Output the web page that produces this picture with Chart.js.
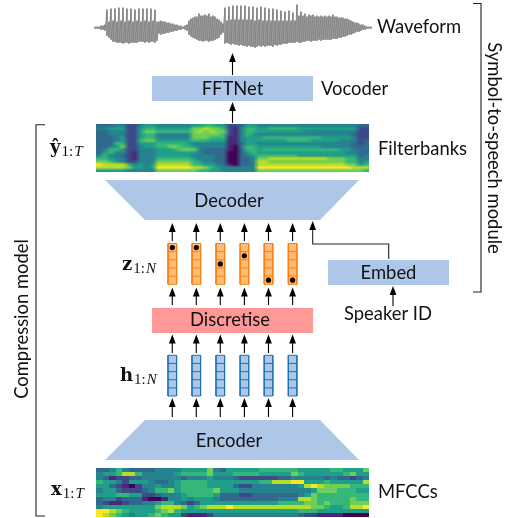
<!DOCTYPE html>
<html>
<head>
<meta charset="utf-8">
<style>body{margin:0;background:#fff}canvas{display:block}</style>
<script src="https://cdn.jsdelivr.net/npm/chart.js@4"></script>
</head>
<body>
<canvas id="chart" width="510" height="518"></canvas>
<script>
// waveform amplitude above / below the centre line, one value per 2 px
const waveTop = [1,1,1,2,2,3, 18,6,19,7,19,6,20,7,20,6,19,7,19,6,18,7,19,6,19,7,19,6,19,7,18,6,
  6,7,6,6,5,5,4,4,3,3,2,2,1,2,
  3,7,9,10,11,11,14,12,12,13,12,14,11,12,11,9,8,6,4,
  20,7,21,8,22,8,22,8,22,8,22,8,21,8,21,7,20,8,21,7,20,7,19,7,19,7,18,7,17,7,16,7,17,7,15,7,
  23,12,16,12,14,11,13,12,13,11,12,11,12,11,12,11,12,11,13,11,11,10,10,10,9,9,8,7,6,5,5,4,3,3,2,1,1,1];
const waveBottom = [1,1,1,2,2,3, 8,10,12,14,14,15,15,15,16,15,15,16,15,15,15,15,14,14,14,15,14,15,14,14,15,13,
  6,7,6,6,5,5,4,4,3,3,2,2,1,2,
  3,7,9,10,11,12,13,13,14,13,13,14,13,13,12,11,10,7,5,
  16,15,16,17,16,17,17,18,17,18,18,19,18,19,19,20,19,18,19,18,19,18,18,18,19,17,18,17,17,16,16,16,15,15,15,15,
  14,15,15,14,14,13,13,14,13,13,13,12,13,12,12,12,12,12,11,11,11,10,10,9,9,8,7,7,6,5,4,4,3,2,2,1,1,1];

// colour level 0-9 per cell, one string per row
const filterbanks = [
  '3334422455444444556655223554444444444444444433',
  '4455522566555555778776214665566666555555555522',
  '3344422577666666787877214665555555544444444422',
  '3344422566444444777776214654444444444444444322',
  '3334522566444444777666114555666666666655555422',
  '3334522677555555666555114555555566665555544423',
  '3336622555666665444444113554444444444444444323',
  '3345722455667766544444104665555555555544444333',
  '3466522444555677743333103665666666666666655433',
  '3564421444555555543333003565555555555555554433',
  '4644321444555555444433003456666666555555555534',
  '6654421444666666544433003347788888888887776644',
  '7765422444777777654433003348877777777777776645',
  '9888864545888888665543103348888888888888887756',
  '8888875545999999887654444449999999999999999888',
  '5555544444777777766554444447777777777777777776'
];
const mfccs = [
  '334643333444455557435555566666655555665557',
  '455688644444566667555666655555765555556755',
  '431223344444434445444322222233444443433234',
  '655425554334566665555555566888995556555558',
  '553210244544566665555322444444458987777666',
  '455322234667566666755544444444444577766655',
  '555665522344456666533322333333345766666666',
  '344233310014454555433333333344488766666766',
  '321123344566432355555555555566667767666777',
  '455555555788875678889888888888888776556889',
  '998765555678655555555555555555566655555555',
  '987654556765521112444444444444432211110000'
];
const levels = ['#440154','#482878','#3e4989','#31688e','#26828e','#1f9e89','#35b779','#6ece58','#b5de2b','#fde725'];

// positions of the latent columns and which cell is picked in each
const columnX = [172.3, 196.3, 220.3, 244.4, 268.5, 292.6];
const pickedCell = [0, 0, 2, 1, 4, 4];

const lightBlue = '#aec7e8';
const datasets = [];

function path(pts, color, width) {
  datasets.push({ data: pts.map(p => ({ x: p[0], y: p[1] })), showLine: true, fill: false,
    borderColor: color, borderWidth: width, pointRadius: 0, tension: 0, clip: false });
}
function shape(pts, color) {
  datasets.push({ data: pts.map(p => ({ x: p[0], y: p[1] })), showLine: true, fill: 'shape',
    backgroundColor: color, borderColor: color, borderWidth: 0, pointRadius: 0, tension: 0, clip: false });
}
function rect(x0, y0, x1, y1, color) {
  shape([[x0, y0], [x1, y0], [x1, y1], [x0, y1], [x0, y0]], color);
}
function arrow(x, tail, tip) {
  path([[x, tail], [x, tip + 4]], '#000', 1.1);
  shape([[x, tip], [x + 3.4, tip + 9], [x - 3.4, tip + 9], [x, tip]], '#000');
}
function stack(x, top, bottom, fillColor, edge) {
  rect(x - 4.3, top, x + 4.3, bottom, fillColor);
  const h = (bottom - top) / 5;
  for (let i = 0; i <= 5; i++) path([[x - 4.3, top + i * h], [x + 4.3, top + i * h]], edge, 1);
  path([[x - 4.3, top], [x - 4.3, bottom]], edge, 1);
  path([[x + 4.3, top], [x + 4.3, bottom]], edge, 1);
}

// waveform
const wavePts = [];
waveTop.forEach((t, i) => {
  const x = 95 + i * 2;
  wavePts.push([x, 27.7 - t], [x, 27.7 + (waveBottom[i] || 0)]);
});
path(wavePts, '#808080', 0.8);

// blocks
rect(152, 76, 313, 101, lightBlue);
shape([[105, 180], [359, 180], [320, 220], [145, 220], [105, 180]], lightBlue);
rect(152, 308, 313, 333, '#ff9896');
shape([[145, 420], [320, 420], [359, 460], [105, 460], [145, 420]], lightBlue);
rect(328, 260, 449, 285, lightBlue);

// arrows
arrow(232.5, 75, 53);
arrow(232.5, 123, 102);
columnX.forEach(x => {
  arrow(x, 241, 223);
  arrow(x, 305, 287.5);
  arrow(x, 353, 334.5);
  arrow(x, 417, 398);
  stack(x, 243.5, 284.3, '#ffbb78', '#ff7f0e');
  stack(x, 355.3, 396, lightBlue, '#1f77b4');
});
arrow(393, 306, 286);
path([[388.7, 259], [388.7, 244], [312.7, 244], [312.7, 226]], '#222', 1.1);
arrow(312.7, 228, 221);

// brackets
path([[473, 3.5], [481, 3.5], [481, 292], [473, 292]], '#222', 1.1);
path([[45, 124.7], [36, 124.7], [36, 516], [45, 516]], '#222', 1.1);

// picked cells
datasets.push({ data: columnX.map((x, i) => ({ x: x, y: 243.5 + (pickedCell[i] + 0.5) * 8.16 })),
  showLine: false, pointRadius: 2.6, pointBackgroundColor: '#000', pointBorderWidth: 0, clip: false });

// later datasets go on top
datasets.forEach((d, i) => { d.order = -i; });

const labels = [
  ['FFTNet', 232.5, 89, 'center'], ['Decoder', 229, 201, 'center'], ['Discretise', 230, 320.5, 'center'],
  ['Encoder', 229, 441, 'center'], ['Embed', 388.5, 273, 'center'], ['Speaker ID', 388, 314.5, 'center'],
  ['Waveform', 377, 27.5, 'left'], ['Vocoder', 321, 89, 'left'], ['Filterbanks', 378, 149.5, 'left'], ['MFCCs', 378, 492.5, 'left']
];
const mathLabels = [
  ['\u0177', '1:', 'T', 50, 153], ['z', '1:', 'N', 122, 270], ['h', '1:', 'N', 120, 381], ['x', '1:', 'T', 51, 495]
];

function heat(chart, rows, x0, y0, x1, y1, smooth) {
  const sx = chart.scales.x, sy = chart.scales.y, c = chart.ctx;
  const off = document.createElement('canvas');
  off.width = rows[0].length; off.height = rows.length;
  const o = off.getContext('2d');
  rows.forEach((r, j) => { for (let i = 0; i < r.length; i++) { o.fillStyle = levels[+r[i]]; o.fillRect(i, j, 1, 1); } });
  c.save();
  c.imageSmoothingEnabled = smooth;
  c.drawImage(off, sx.getPixelForValue(x0), sy.getPixelForValue(y0),
    sx.getPixelForValue(x1) - sx.getPixelForValue(x0), sy.getPixelForValue(y1) - sy.getPixelForValue(y0));
  c.restore();
}

const diagram = {
  id: 'diagram',
  beforeDatasetsDraw(chart) {
    heat(chart, filterbanks, 96, 124, 369, 172, true);
    heat(chart, mfccs, 96, 468, 369, 517, false);
  },
  afterDatasetsDraw(chart) {
    const sx = chart.scales.x, sy = chart.scales.y, c = chart.ctx;
    c.save();
    c.fillStyle = '#111';
    c.textBaseline = 'middle';
    c.font = '18.4px Lato';
    labels.forEach(l => {
      c.textAlign = l[3];
      c.fillText(l[0], sx.getPixelForValue(l[1]), sy.getPixelForValue(l[2]));
    });
    c.textAlign = 'center';
    c.save();
    c.translate(sx.getPixelForValue(494), sy.getPixelForValue(148));
    c.rotate(Math.PI / 2);
    c.fillText('Symbol-to-speech module', 0, 0);
    c.restore();
    c.save();
    c.translate(sx.getPixelForValue(22), sy.getPixelForValue(319));
    c.rotate(-Math.PI / 2);
    c.fillText('Compression model', 0, 0);
    c.restore();
    c.textAlign = 'left';
    c.textBaseline = 'alphabetic';
    mathLabels.forEach(m => {
      let x = sx.getPixelForValue(m[3]);
      const y = sy.getPixelForValue(m[4]);
      c.font = 'bold 18px "DejaVu Serif"';
      c.fillText(m[0], x, y);
      x += c.measureText(m[0]).width + 1;
      c.font = '15px "Liberation Serif"';
      c.fillText(m[1], x, y + 3);
      x += c.measureText(m[1]).width + 1;
      c.font = 'italic 15px "Liberation Serif"';
      c.fillText(m[2], x, y + 3);
    });
    c.restore();
  }
};

new Chart(document.getElementById('chart').getContext('2d'), {
  type: 'scatter',
  data: { datasets: datasets },
  plugins: [diagram],
  options: {
    responsive: false,
    animation: false,
    layout: { padding: 0, autoPadding: false },
    plugins: { legend: { display: false }, tooltip: { enabled: false }, title: { display: false } },
    scales: {
      x: { type: 'linear', min: 0, max: 510, display: false },
      y: { type: 'linear', min: 0, max: 518, reverse: true, display: false }
    }
  }
});
</script>
</body>
</html>
